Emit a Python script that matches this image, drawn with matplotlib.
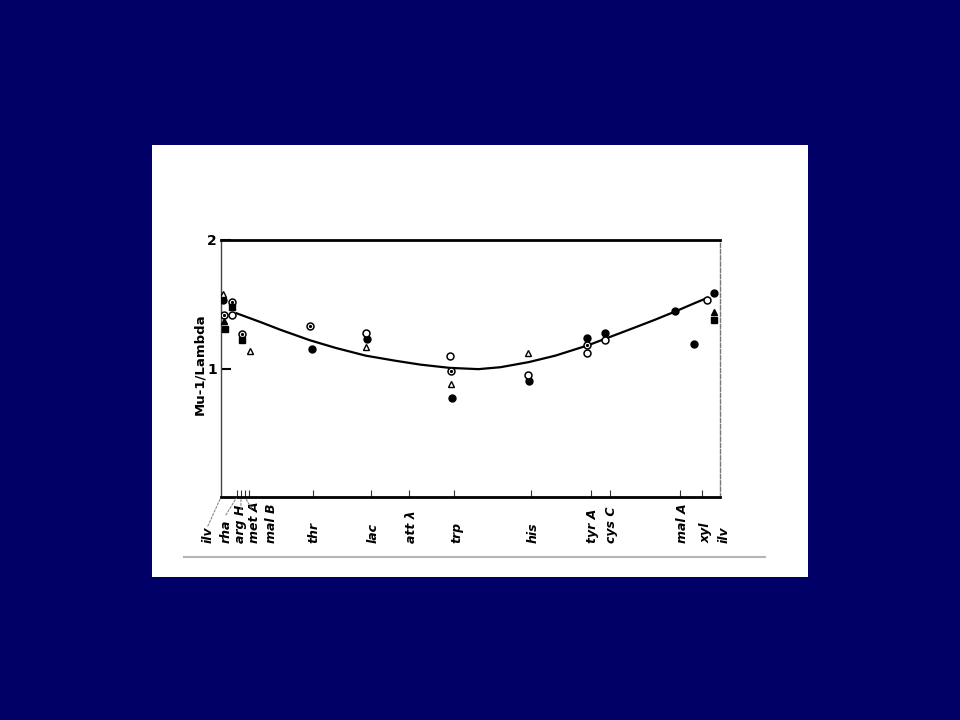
import matplotlib
matplotlib.use("Agg")
import matplotlib.pyplot as plt
from matplotlib.patches import Rectangle
from matplotlib.lines import Line2D

# map positions (arbitrary units along the chromosome, ilv -> ilv)
gene_labels = ["ilv", "rha", "arg H", "met A", "mal B", "thr", "lac", "att λ",
               "trp", "his", "tyr A", "cys C", "mal A", "xyl", "ilv"]
gene_pos = [0, 3.2, 4.0, 4.8, 5.6, 18.4, 30.0, 37.7, 46.6, 62.1, 74.1, 77.9, 92.0, 96.4, 100]

# Mu-1/Lambda ratios, by marker type
filled_circle_x = [0.4, 18.2, 29.3, 46.2, 61.7, 73.3, 77.0, 91.0, 94.8, 98.8]
filled_circle_y = [1.53, 1.15, 1.23, 0.77, 0.90, 1.24, 1.28, 1.45, 1.19, 1.59]
open_circle_x = [2.2, 29.0, 45.9, 61.6, 73.4, 77.0, 97.4]
open_circle_y = [1.42, 1.28, 1.10, 0.95, 1.12, 1.22, 1.53]
dot_circle_x = [0.7, 2.2, 4.2, 17.8, 46.0, 73.3]
dot_circle_y = [1.42, 1.52, 1.27, 1.33, 0.98, 1.18]
open_tri_x = [0.4, 5.9, 29.0, 46.1, 61.5]
open_tri_y = [1.58, 1.14, 1.17, 0.88, 1.12]
filled_tri_x = [0.6, 98.8]
filled_tri_y = [1.37, 1.44]
filled_sq_x = [0.8, 2.2, 4.2, 98.8]
filled_sq_y = [1.31, 1.48, 1.22, 1.38]

# hand-drawn trend curve
curve_x = [3.1, 8, 12, 17.8, 23, 29.0, 35, 40, 45.8, 51.6, 56, 61.7, 67, 73.5, 76.9, 83, 87, 90.8, 95, 97.5]
curve_y = [1.43, 1.36, 1.30, 1.22, 1.16, 1.10, 1.06, 1.03, 1.005, 0.995, 1.01, 1.05, 1.10, 1.18, 1.23, 1.32, 1.38, 1.44, 1.51, 1.55]

W, H = 960, 720
fig = plt.figure(figsize=(9.6, 7.2), dpi=100, facecolor="#000066")

# white "slide" panel
fig.patches.append(Rectangle((152 / W, 1 - 577 / H), 656 / W, 432 / H,
                             transform=fig.transFigure, facecolor="white",
                             edgecolor="none", zorder=-2))
fig.add_artist(Line2D([184 / W, 765 / W], [1 - 557 / H] * 2, color="#b5b5b5",
                      lw=1.5, zorder=-1))

ax = fig.add_axes([221 / W, 1 - 497 / H, 499 / W, 257 / H])
ax.set_zorder(2)
ax.set_facecolor("white")
ax.set_xlim(0, 100)
ax.set_ylim(0, 2)

ax.plot(curve_x, curve_y, color="black", lw=1.6, zorder=2)

ms = dict(linestyle="none", zorder=3)
ax.plot(filled_circle_x, filled_circle_y, marker="o", ms=5, mfc="black", mec="black", **ms)
ax.plot(open_circle_x, open_circle_y, marker="o", ms=5, mfc="white", mec="black", mew=1.1, **ms)
ax.plot(dot_circle_x, dot_circle_y, marker="o", ms=5, mfc="white", mec="black", mew=1.1, **ms)
ax.plot(dot_circle_x, dot_circle_y, marker="o", ms=1.3, mfc="black", mec="black", **ms)
ax.plot(open_tri_x, open_tri_y, marker="^", ms=4, mfc="white", mec="black", mew=1.0, **ms)
ax.plot(filled_tri_x, filled_tri_y, marker="^", ms=4, mfc="black", mec="black", **ms)
ax.plot(filled_sq_x, filled_sq_y, marker="s", ms=4, mfc="black", mec="black", **ms)

# spines: heavy top/bottom, light left/right as in the scan
for side in ["top", "bottom"]:
    ax.spines[side].set_linewidth(2.0)
ax.spines["left"].set_linewidth(1.0)
ax.spines["left"].set_color("#444444")
ax.spines["right"].set_linewidth(1.0)
ax.spines["right"].set_color("#777777")
ax.spines["right"].set_linestyle((0, (3, 1.5)))

ax.set_yticks([1, 2])
ax.set_yticklabels(["1", "2"], fontsize=10, fontweight="bold")
ax.tick_params(axis="y", direction="in", length=7, width=1.5, pad=3)

ax.set_xticks(gene_pos[1:-1])
ax.set_xticklabels([])
ax.tick_params(axis="x", direction="in", length=5, width=0.8, color="#333333")

# rotated gene labels below the axis; crowded ones spread with dashed leaders
label_dx = [-9.5, -8, 0, 7, 16.5, 1, 1.5, 1.5, 2.5, 1.5, 1, 1, 1.5, 3, 3]
for name, x, dx in zip(gene_labels, gene_pos, label_dx):
    ax.annotate(name, xy=(x, 0), xytext=(dx, -33), textcoords="offset points",
                rotation=90, ha="center", va="bottom", fontsize=9,
                fontstyle="italic", fontweight="bold", annotation_clip=False)

leader_end = [(-9.5, -21), (-8, -13), (0, -9), (4.5, -8)]
for x, (dx, dy) in zip(gene_pos[:4], leader_end):
    ax.annotate("", xy=(x, 0), xytext=(dx, dy), textcoords="offset points",
                annotation_clip=False,
                arrowprops=dict(arrowstyle="-", ls=(0, (2, 1.5)), color="#8a8a8a",
                                lw=0.8, shrinkA=0, shrinkB=1))

fig.text(200 / W, 1 - 364 / H, "Mu-1/Lambda", rotation=90, ha="center",
         va="center", fontsize=9.5, fontweight="semibold")

fig.savefig("out.png", dpi=100, facecolor=fig.get_facecolor())
